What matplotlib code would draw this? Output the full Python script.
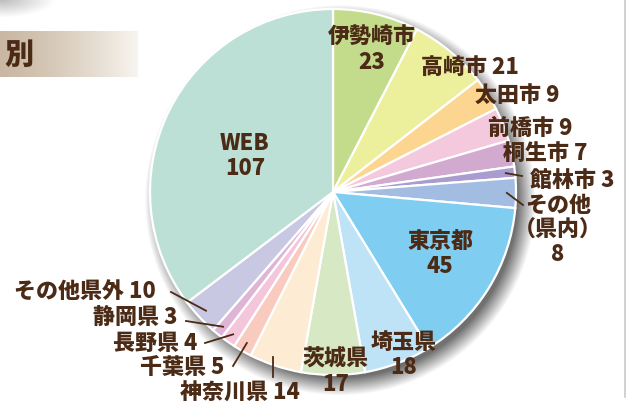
import numpy as np
import matplotlib
matplotlib.use('Agg')
import matplotlib.pyplot as plt

plt.rcParams['font.family'] = ['Noto Sans CJK JP', 'DejaVu Sans']

# data (clockwise from 12 o'clock)
labels = ['伊勢崎市', '高崎市', '太田市', '前橋市', '桐生市', '館林市', 'その他\n（県内）',
          '東京都', '埼玉県', '茨城県', '神奈川県', '千葉県', '長野県', '静岡県', 'その他県外', 'WEB']
values = [23, 21, 9, 9, 7, 3, 8, 45, 18, 17, 14, 5, 4, 3, 10, 107]
colors = ['#c3dc8b', '#ecef9b', '#fcd690', '#f4c8dd', '#d2a9cf', '#a99dcf', '#a3bde2',
          '#7fcef2', '#bee3f7', '#d7e8c5', '#fdebd3', '#f8cbbe', '#f4c6dc', '#dfb5d7', '#c8c8e3', '#bde0d6']

W, H = 633, 406
CX, CY, R = 333, 193, 183
TXT = '#4b2a16'

def px(x, y):
    return (x - CX) / R, (CY - y) / R

fig = plt.figure(figsize=(W / 100, H / 100), dpi=100)
ax = fig.add_axes([0, 0, 1, 1])
ax.axis('off')

# soft shadow behind the pie
gx = np.linspace(px(0, 0)[0], px(W, 0)[0], W)
gy = np.linspace(px(0, 0)[1], px(0, H)[1], H)
XX, YY = np.meshgrid(gx, gy)
d = np.hypot(XX - 0.04, YY + 0.045)
a = np.clip((1.07 - d) / 0.1, 0, 1) * 0.7
shadow = np.zeros((H, W, 4))
shadow[..., :3] = 0.2
shadow[..., 3] = a
ax.imshow(shadow, extent=[gx[0], gx[-1], gy[-1], gy[0]], zorder=0, interpolation='bilinear')

# corner shade top-left
corner = np.zeros((25, 60, 4))
cyy, cxx = np.mgrid[0:25, 0:60]
corner[..., :3] = 0.55
corner[..., 3] = np.clip(1 - np.hypot(cxx / 55, cyy / 18), 0, 1) * 0.6
x0, y0 = px(0, 0)
x1, y1 = px(60, 25)
ax.imshow(corner, extent=[x0, x1, y1, y0], zorder=0, interpolation='bilinear')

wedges, _ = ax.pie(values, colors=colors, startangle=90, counterclock=False, radius=1,
                   wedgeprops=dict(edgecolor='white', linewidth=1.6), center=(0, 0))
ax.set_xlim(px(0, 0)[0], px(W, 0)[0])
ax.set_ylim(px(0, H)[1], px(0, 0)[1])
ax.set_aspect('equal')

# heading box "別"
grad = np.linspace(0, 1, 256)
c0 = np.array([0.79, 0.72, 0.64])
c1 = np.array([0.97, 0.96, 0.94])
box = (c0[None, :] * (1 - grad[:, None] ** 1.3) + c1[None, :] * grad[:, None] ** 1.3)[None, :, :]
bx0, by0 = px(0, 32)
bx1, by1 = px(138, 78)
ax.imshow(box, extent=[bx0, bx1, by1, by0], aspect='auto', zorder=1)
ax.text(*px(19, 55), '別', fontsize=21, fontweight='black', color=TXT, ha='center', va='center')

# right border
ax.plot([px(625, 0)[0]] * 2, [px(0, 0)[1], px(0, 398)[1]], color='#c9c9c9', lw=1.2)

cum = np.cumsum([0] + values)
total = cum[-1]

def mid_point(i, r):
    th = np.deg2rad((cum[i] + values[i] / 2) / total * 360)
    return r * np.sin(th), r * np.cos(th)

# label layout: text centre in px, leader end in px (or None)
layout = {
    0: ((372, 50), None), 1: ((470, 67), None), 2: ((517, 96), None),
    3: ((530, 128), None), 4: ((545, 153), None), 5: ((572, 181), (522, 177)),
    6: ((558, 230), (523, 206)), 7: ((440, 254), None), 8: ((404, 355), None),
    9: ((336, 372), None), 10: ((240, 393), (273, 378)), 11: ((182, 368), (233, 367)),
    12: ((155, 343), (205, 344)), 13: ((135, 317), (186, 322)), 14: ((85, 291), (171, 293)),
    15: ((245, 156), None),
}
two_line = {0, 6, 7, 8, 9, 15}
for i, (lab, v) in enumerate(zip(labels, values)):
    (tx, ty), end = layout[i]
    s = lab + ('\n' if i in two_line else ' ') + str(v)
    ax.text(*px(tx, ty), s, fontsize=15.8, fontweight='black', color=TXT,
            ha='center', va='center', linespacing=1.1, zorder=5)
    if end is not None:
        sx, sy = mid_point(i, 0.95)
        ex, ey = px(*end)
        if i == 10:
            sx = ex
        ax.plot([sx, ex], [sy, ey], color=TXT, lw=1.3, zorder=5)

fig.savefig('out.png', dpi=100)
